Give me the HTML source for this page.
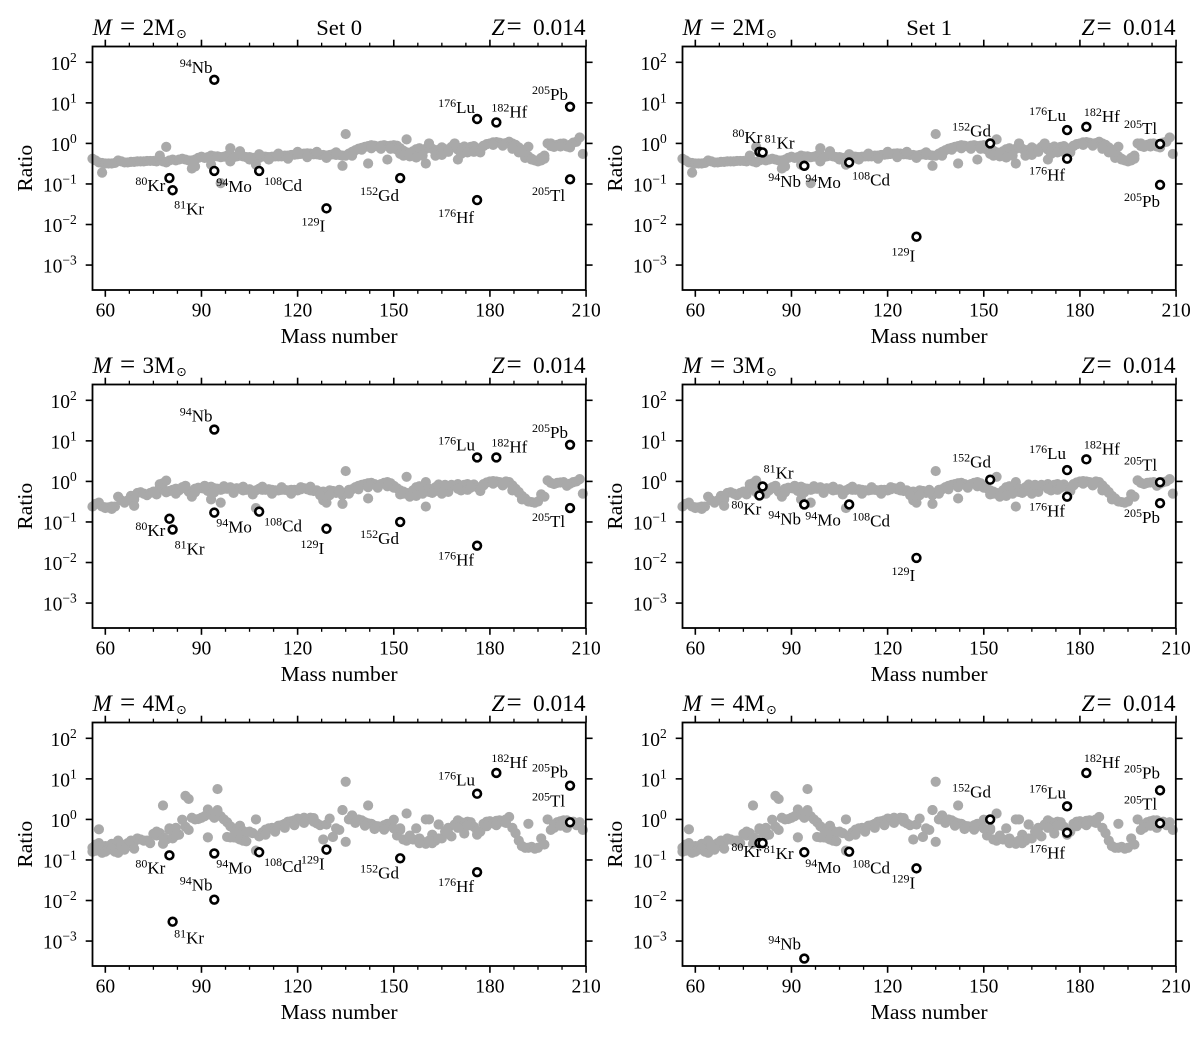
<!DOCTYPE html>
<html lang="en">
<head>
<meta charset="utf-8">
<title>Isotope production ratios</title>
<style>
html,body{margin:0;padding:0;background:#fff;}
svg{display:block;font-family:"Liberation Serif","DejaVu Serif",serif;}
</style>
</head>
<body>
<svg id="figure" xmlns="http://www.w3.org/2000/svg" width="1200" height="1038" viewBox="0 0 1200 1038"></svg>
<script>
const xTickValues = [60, 90, 120, 150, 180, 210];
const xMinorTickValues = [67.5, 75, 82.5, 97.5, 105, 112.5, 127.5, 135, 142.5, 157.5, 165, 172.5, 187.5, 195, 202.5];
const yTickExponents = [2, 1, 0, -1, -2, -3];

const isotopeMass = [80, 81, 94, 94, 108, 129, 152, 176, 176, 182, 205, 205];
const isotopeNumber = ["80", "81", "94", "94", "108", "129", "152", "176", "176", "182", "205", "205"];
const isotopeSymbol = ["Kr", "Kr", "Nb", "Mo", "Cd", "I", "Gd", "Lu", "Hf", "Hf", "Pb", "Tl"];

const ratiosSet0M2 = [0.14, 0.07, 37, 0.21, 0.21, 0.025, 0.14, 4, 0.04, 3.3, 8, 0.13];
const ratiosSet1M2 = [0.62, 0.6, 0.28, 0.28, 0.34, 0.005, 1.0, 2.13, 0.42, 2.57, 0.095, 0.97];
const ratiosSet0M3 = [0.12, 0.065, 19, 0.17, 0.18, 0.068, 0.1, 3.9, 0.026, 3.9, 8, 0.22];
const ratiosSet1M3 = [0.45, 0.75, 0.27, 0.27, 0.27, 0.013, 1.1, 1.9, 0.42, 3.5, 0.29, 0.95];
const ratiosSet0M4 = [0.13, 0.003, 0.0105, 0.145, 0.155, 0.18, 0.11, 4.3, 0.05, 14, 6.8, 0.85];
const ratiosSet1M4 = [0.26, 0.26, 0.00037, 0.155, 0.16, 0.062, 1.0, 2.1, 0.47, 14, 5.2, 0.8];

const ridgeMass = [56,57,58,59,60,61,62,63,64,65,66,67,68,69,70,71,72,73,74,75,76,77,78,79,80,81,82,83,84,85,86,87,88,89,90,91,92,93,94,95,96,97,98,99,100,101,102,103,104,105,106,107,108,109,110,111,112,113,114,115,116,117,118,119,120,121,122,123,124,125,126,127,128,129,130,131,132,133,134,135,136,137,138,139,140,141,142,143,144,145,146,147,148,149,150,151,152,153,154,155,156,157,158,159,160,161,162,163,164,165,166,167,168,169,170,171,172,173,174,175,176,177,178,179,180,181,182,183,184,185,186,187,188,189,190,191,192,193,194,195,196,197,198,199,200,201,202,203,204,205,206,207,208,209];

const ridgeRatioM2 = [
  .42,.38,.34,.33,.32,.32,.32,.33,.38,.36,
  .34,.34,.35,.35,.36,.36,.36,.37,.37,.37,
  .36,.40,.36,.34,.38,.40,.38,.40,.42,.40,
  .38,.38,.40,.44,.47,.44,.46,.50,.48,.48,
  .46,.47,.50,.52,.46,.48,.50,.48,.46,.46,
  .44,.42,.44,.48,.47,.46,.47,.48,.48,.48,
  .50,.50,.52,.53,.54,.55,.56,.57,.56,.54,
  .54,.52,.52,.50,.52,.54,.52,.52,.50,.50,
  .56,.62,.68,.74,.78,.82,.86,.90,.88,.84,
  .88,.90,.86,.88,.90,.88,.76,.66,.60,.56,
  .64,.72,.76,.68,.74,.80,.74,.66,.70,.80,
  .72,.66,.82,.80,.70,.78,.84,.78,.82,.86,
  .76,.70,.88,.96,1.0,1.06,1.08,1.04,1.0,1.02,
  1.1,1.0,.92,.80,.70,.58,.48,.42,.38,.36,
  .38,.50,1.0,1.0,.82,.92,.98,1.0,.84,.92,
  1.05,1.1,1.4,.55];
const ridgeRatioM3 = [
  .24,.28,.30,.24,.23,.23,.24,.24,.42,.34,
  .30,.34,.44,.36,.52,.54,.50,.46,.52,.56,
  .48,.70,.66,.54,.58,.62,.66,.60,.72,.68,
  .56,.48,.66,.70,.68,.66,.58,.74,.68,.66,
  .62,.66,.66,.72,.62,.68,.66,.60,.62,.64,
  .58,.60,.66,.62,.62,.64,.62,.60,.60,.62,
  .62,.60,.62,.62,.60,.64,.68,.64,.60,.58,
  .60,.52,.56,.44,.60,.58,.52,.54,.46,.52,
  .62,.64,.72,.78,.82,.86,.90,.92,.86,.80,
  .86,.92,.96,.90,.78,.68,.60,.56,.52,.50,
  .60,.72,.76,.70,.96,.66,.60,.72,.84,.70,
  .62,.76,.82,.78,.86,.72,.82,.86,.80,.84,
  .72,.64,.86,.94,1.0,1.02,1.0,.96,.92,1.0,
  .96,.80,.66,.52,.44,.36,.32,.31,.30,.32,
  .48,.42,1.06,.92,.86,.92,.94,.96,.78,.88,
  .96,1.0,1.14,.50];
const ridgeRatioM4 = [
  .20,.24,.26,.19,.22,.22,.25,.20,.30,.22,
  .24,.26,.30,.28,.34,.32,.30,.30,.26,.44,
  .40,.46,.36,.32,.60,.34,.40,.42,.98,.66,
  .55,1.1,1.0,1.02,1.1,1.2,1.76,1.3,1.1,1.7,
  1.2,1.0,.85,.68,.60,.56,.70,.52,.48,.50,
  .46,1.0,.38,.48,.56,.60,.62,.60,.70,.72,
  .78,.88,.90,.95,1.05,1.0,1.1,1.0,1.1,1.08,
  .80,.72,.32,.75,1.05,.37,.60,.55,1.7,.28,
  1.0,1.25,1.0,1.0,.95,.85,.80,.78,.70,.68,
  .66,.72,.78,.70,.98,.40,.55,.32,.30,.34,
  .32,.60,.34,.28,.25,1.0,.42,.30,.75,.34,
  .50,.62,.38,.75,.95,.85,.72,.88,.85,.66,
  .52,.50,.78,.88,.90,.80,.92,.95,.88,1.0,
  1.15,.62,.46,.30,.22,.20,.20,.21,.19,.20,
  .34,.24,1.0,.55,.75,.85,.90,.95,.62,.80,
  .88,.72,.85,.55];

const extraMassM2 = [59,79,77,87,88,99,99,102,96,93,107,134,135,142,148,154,160,170,192,150,151,152,153,155,157,159,161,163,165,167,169,171,173,175,177,187,189,191,197,102,105,108,111,114,117,120,123,126,129,132,137,140,143,146,149,178,181,184,187,190,193,196,199,202,205];
const extraRatioM2 = [.19,.82,.5,.24,.27,.76,.36,.64,.105,.30,.30,.28,1.7,.32,.40,1.26,.32,.40,.83,.75,.70,.55,.50,.48,.45,.50,1.0,.5,.52,.62,1.0,.55,.60,.62,.60,.85,.60,.44,.42,.56,.40,.54,.40,.56,.42,.62,.46,.62,.44,.60,.50,.70,.76,.74,.74,.86,.92,.88,.74,.60,.40,.44,.86,.84,.80];
const extraMassM3 = [58,60,62,69,77,78,79,87,93,96,107,128,129,134,135,142,154,160,150,152,153,155,157,159,161,163,165,167,171,173,177,187,189,191,82,85,88,91,94,97,100,103,106,109,112,115,118,121,124,127,130,133,136,139,142,145,148,162,166,170,174,178,181,184,187,190];
const extraRatioM3 = [.28,.22,.21,.25,.85,.90,1.05,.42,.36,.30,.22,.34,.30,.28,1.8,.38,1.3,.24,.70,.48,.50,.42,.44,.50,.55,.58,.50,.55,.60,.62,.58,.78,.55,.38,.50,.78,.54,.78,.54,.76,.52,.74,.48,.74,.50,.72,.50,.72,.74,.46,.46,.62,.50,.64,.72,.70,.76,.52,.82,.66,.70,.80,.88,.80,.60,.36];
const extraMassM4 = [58,78,78,85,86,95,92,69,135,142,134,137,131,154,160,164,152,192,98,99,100,101,102,103,104,56,57,59,60,61,62,63,64,65,66,76,80,82,107,158,162,172,190,200,202,204,110,113,116,119,122,125,138,141,144,147,150,155,158,161,164,167,170,173,176,179,182,185];
const extraRatioM4 = [.57,2.2,.25,3.8,3.2,5.6,.36,.19,8.5,2.2,1.7,1.25,.37,1.4,1.0,.75,.6,.78,.37,.36,.36,.35,.32,.30,.29,.16,.17,.15,.16,.18,.19,.16,.15,.22,.18,.5,.55,.62,.17,.28,.26,.45,.22,.62,.7,.95,.42,.50,.62,.72,.82,.88,.82,.70,.58,.56,.60,.40,.26,.30,.34,.46,.62,.70,.42,.68,.72,.82];

/* Annotation offsets from each marker, in pixels (same isotope order). */
const labelDxSet0M2 = [-34, 1.5, -34.5, 2, 5, -25, -40, -39, -39, -5, -38, -38];
const labelDySet0M2 = [13, 24.5, -7, 21, 20, 23, 23, -6, 23, -5, -7, 21.5];
const labelDxSet1M2 = [-27, 2, -36, 1, 3, -25, -38, -38, -38, -2.5, -36, -36];
const labelDySet1M2 = [-9, -4, 21, 22, 23, 25, -7, -9, 22, -5, 22, -10];
const labelDxSet0M3 = [-34, 2, -34.5, 2, 5, -26, -40, -39, -39, -5, -38, -38];
const labelDySet0M3 = [17, 25, -8, 20, 20, 25, 22, -7, 20, -5, -7, 19];
const labelDxSet1M3 = [-28, 1, -36, 1, 3, -25, -38, -38, -38, -2.5, -36, -36];
const labelDySet1M3 = [19, -8, 20, 21, 22, 23, -12, -11, 20, -5, 20, -12];
const labelDxSet0M4 = [-34, 1.5, -34.5, 2, 5, -25.5, -40, -39, -39, -5, -38, -38];
const labelDySet0M4 = [18, 22, -9, 20, 20, 20, 20, -8, 20, -5, -8, -16];
const labelDxSet1M4 = [-28, 1, -36, 1, 3, -25, -38, -38, -38, -2.5, -36, -36];
const labelDySet1M4 = [14, 16, -9, 21, 22, 20, -22, -8, 26, -5, -12, -14];

const panelList = [
  {key:"set0-m2", col:0, row:0, mass:"2", setName:"Set 0", ratios:ratiosSet0M2, ridge:ridgeRatioM2, exM:extraMassM2, exR:extraRatioM2, dx:labelDxSet0M2, dy:labelDySet0M2},
  {key:"set1-m2", col:1, row:0, mass:"2", setName:"Set 1", ratios:ratiosSet1M2, ridge:ridgeRatioM2, exM:extraMassM2, exR:extraRatioM2, dx:labelDxSet1M2, dy:labelDySet1M2},
  {key:"set0-m3", col:0, row:1, mass:"3", setName:"", ratios:ratiosSet0M3, ridge:ridgeRatioM3, exM:extraMassM3, exR:extraRatioM3, dx:labelDxSet0M3, dy:labelDySet0M3},
  {key:"set1-m3", col:1, row:1, mass:"3", setName:"", ratios:ratiosSet1M3, ridge:ridgeRatioM3, exM:extraMassM3, exR:extraRatioM3, dx:labelDxSet1M3, dy:labelDySet1M3},
  {key:"set0-m4", col:0, row:2, mass:"4", setName:"", ratios:ratiosSet0M4, ridge:ridgeRatioM4, exM:extraMassM4, exR:extraRatioM4, dx:labelDxSet0M4, dy:labelDySet0M4},
  {key:"set1-m4", col:1, row:2, mass:"4", setName:"", ratios:ratiosSet1M4, ridge:ridgeRatioM4, exM:extraMassM4, exR:extraRatioM4, dx:labelDxSet1M4, dy:labelDySet1M4}
];

const NS = "http://www.w3.org/2000/svg";
const figure = document.getElementById("figure");
const PANEL_W = 493.3, PANEL_H = 243.5, COL_STEP = 590, ROW_STEP = 338, LEFT0 = 92.5, TOP0 = 46.5;
const X_MIN = 56, PX_PER_MASS = 3.205, LOG_TOP = 2.39, PX_PER_DEX = 40.55, DOT_R = 5.1;

function make(tag, attrs, parent, text) {
  const el = document.createElementNS(NS, tag);
  for (const k in attrs) el.setAttribute(k, attrs[k]);
  if (text !== undefined) el.textContent = text;
  parent.appendChild(el);
  return el;
}
function xAxis(mass, left) { return left + (mass - X_MIN) * PX_PER_MASS; }
function yAxis(ratio, top) { return top + (LOG_TOP - Math.log10(ratio)) * PX_PER_DEX; }
function yAxisExp(exp, top) { return top + (LOG_TOP - exp) * PX_PER_DEX; }

panelList.forEach(function (p) {
  const left = LEFT0 + p.col * COL_STEP;
  const top = TOP0 + p.row * ROW_STEP;
  const right = left + PANEL_W;
  const bottom = top + PANEL_H;

  const g = make("g", {}, figure);
  
  

  /* gray background isotopes */
  const cloud = make("g", {fill: "#a9a9a9"}, g);
  
  
  ridgeMass.forEach(function (m, i) {
    const dot = make("circle", {cx: xAxis(m, left), cy: yAxis(p.ridge[i], top), r: DOT_R}, cloud);
    
    
  });
  p.exM.forEach(function (m, i) {
    const dot = make("circle", {cx: xAxis(m, left), cy: yAxis(p.exR[i], top), r: DOT_R}, cloud);
    
    
  });

  /* frame */
  const frame = make("rect", {x: left, y: top, width: PANEL_W, height: PANEL_H, fill: "none", stroke: "#000", "stroke-width": 1.8}, g);
  
  

  /* x ticks */
  xTickValues.forEach(function (v) {
    const x = xAxis(v, left);
    const bt = make("line", {x1: x, x2: x, y1: bottom, y2: bottom + 6.8, stroke: "#000", "stroke-width": 1.6}, g);
    
    
    const tt = make("line", {x1: x, x2: x, y1: top, y2: top - 6.8, stroke: "#000", "stroke-width": 1.6}, g);
    
    
    const lab = make("text", {x: x, y: bottom + 26.5, "text-anchor": "middle", "font-size": 19.5}, g, String(v));
    
    
  });
  xMinorTickValues.forEach(function (v) {
    const x = xAxis(v, left);
    const bt = make("line", {x1: x, x2: x, y1: bottom, y2: bottom + 3.8, stroke: "#000", "stroke-width": 1.3}, g);
    
    
    const tt = make("line", {x1: x, x2: x, y1: top, y2: top - 3.8, stroke: "#000", "stroke-width": 1.3}, g);
    
    
  });

  /* y ticks */
  yTickExponents.forEach(function (e) {
    const y = yAxisExp(e, top);
    const lt = make("line", {x1: left, x2: left - 6.8, y1: y, y2: y, stroke: "#000", "stroke-width": 1.6}, g);
    
    
    const rt = make("line", {x1: right, x2: right + 6.8, y1: y, y2: y, stroke: "#000", "stroke-width": 1.6}, g);
    
    
    const lab = make("text", {x: left - 15.7, y: y + 7.5, "text-anchor": "end", "font-size": 19.5}, g);
    
    
    make("tspan", {}, lab, "10");
    make("tspan", {"font-size": 13.5, dy: -8}, lab, String(e).replace("-", "\u2212"));
  });

  /* axis titles */
  const xt = make("text", {x: left + PANEL_W / 2, y: bottom + 53, "text-anchor": "middle", "font-size": 21.6}, g, "Mass number");
  
  
  const yx = left - 60.7, yy = top + PANEL_H / 2;
  const yt = make("text", {x: yx, y: yy, "text-anchor": "middle", "font-size": 21.6, transform: "rotate(-90 " + yx + " " + yy + ")"}, g, "Ratio");
  
  

  /* titles */
  const titleY = top - 11.5;
  const tm = make("text", {"font-size": 23.2, y: titleY}, g);
  
  
  make("tspan", {x: left, "font-style": "italic"}, tm, "M");
  make("tspan", {x: left + 27.5, "font-size": 27}, tm, "=");
  make("tspan", {x: left + 50}, tm, p.mass + "M");
  make("tspan", {x: left + 83.7, "font-size": 12.5, dy: 3, "font-family": "DejaVu Sans, sans-serif"}, tm, "\u2299");
  if (p.setName) {
    const ts = make("text", {"font-size": 22.6, y: titleY, x: left + PANEL_W / 2, "text-anchor": "middle"}, g, p.setName);
    
    
  }
  const tz = make("text", {"font-size": 23.4, y: titleY}, g);
  
  
  make("tspan", {x: left + 399, "font-style": "italic"}, tz, "Z");
  make("tspan", {x: left + 414, "font-size": 27}, tz, "=");
  make("tspan", {x: left + 440.5}, tz, "0.014");

  /* highlighted isotopes */
  const hl = make("g", {}, g);
  
  
  isotopeMass.forEach(function (m, i) {
    const cx = xAxis(m, left), cy = yAxis(p.ratios[i], top);
    const ring = make("circle", {cx: cx, cy: cy, r: 3.9, fill: "#fff", stroke: "#000", "stroke-width": 2.6}, hl);
    
    
    const t = make("text", {x: cx + p.dx[i], y: cy + p.dy[i], "font-size": 17}, hl);
    
    
    make("tspan", {"font-size": 12, dy: -6}, t, isotopeNumber[i]);
    make("tspan", {dy: 6}, t, isotopeSymbol[i]);
  });
});
</script>
</body>
</html>
